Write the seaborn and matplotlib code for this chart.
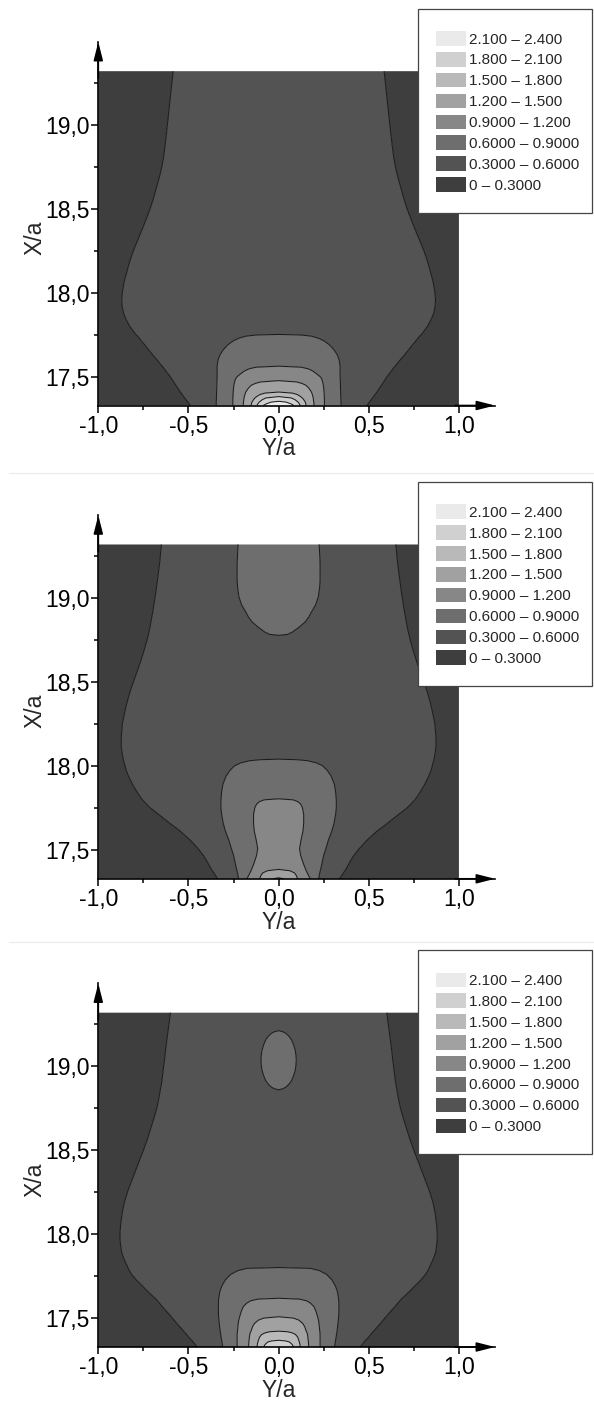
import numpy as np
import matplotlib
matplotlib.use("Agg")
import matplotlib.pyplot as plt
from matplotlib.patches import Patch, Rectangle
from matplotlib.lines import Line2D
from matplotlib.ticker import FuncFormatter
import seaborn as sns

# Contour bands (lowest first) and their grey fills
BANDS = [0.0, 0.3, 0.6, 0.9, 1.2, 1.5, 1.8, 2.1, 2.4]
BAND_COLORS = ['#3e3e3e', '#535353', '#6e6e6e', '#878787',
               '#a1a1a1', '#b9b9b9', '#d0d0d0', '#eaeaea']
BAND_LABELS = ['0 \u2013 0.3000', '0.3000 \u2013 0.6000', '0.6000 \u2013 0.9000',
               '0.9000 \u2013 1.200', '1.200 \u2013 1.500', '1.500 \u2013 1.800',
               '1.800 \u2013 2.100', '2.100 \u2013 2.400']
EDGE_VALUE = 0.15  # value at Y/a = +-1 (darkest band)

# Each panel: rows of X/a, half width (in Y/a) of each contour line 0.3, 0.6, ...
# in that row, and the value on the axis Y/a = 0.  Rows past the end of a
# width list do not reach that contour.

# ---- panel 1
P1_X = [17.33, 17.34, 17.35, 17.355, 17.365, 17.375, 17.383, 17.395, 17.404, 17.41,
        17.42, 17.435, 17.45, 17.462, 17.47, 17.478, 17.49, 17.50, 17.514, 17.535,
        17.548, 17.558, 17.564, 17.60, 17.63, 17.663, 17.69, 17.713, 17.73, 17.743,
        17.75, 17.753, 17.80, 17.84, 17.88, 17.92, 17.96, 18.00, 18.06, 18.125,
        18.19, 18.25, 18.31, 18.375, 18.44, 18.5, 18.56, 18.625, 18.69, 18.75,
        18.81, 18.875, 18.94, 19.0, 19.08, 19.16, 19.24, 19.32]
P1_W03 = [0.49, 0.497, 0.503, 0.507, 0.514, 0.521, 0.527, 0.534, 0.541, 0.545,
          0.551, 0.56, 0.57, 0.577, 0.582, 0.587, 0.594, 0.60, 0.61, 0.625,
          0.634, 0.641, 0.646, 0.673, 0.697, 0.722, 0.742, 0.76, 0.772, 0.782,
          0.79, 0.792, 0.825, 0.845, 0.86, 0.868, 0.87, 0.867, 0.858, 0.842,
          0.825, 0.806, 0.783, 0.758, 0.734, 0.713, 0.695, 0.678, 0.661, 0.648,
          0.638, 0.63, 0.623, 0.617, 0.609, 0.601, 0.593, 0.585]
P1_W06 = [0.346, 0.346, 0.346, 0.346, 0.345, 0.345, 0.345, 0.344, 0.344, 0.344,
          0.344, 0.343, 0.343, 0.343, 0.342, 0.342, 0.342, 0.341, 0.341, 0.341,
          0.341, 0.341, 0.341, 0.336, 0.326, 0.306, 0.283, 0.254, 0.222, 0.18,
          0.12]
P1_W09 = [0.254, 0.254, 0.254, 0.254, 0.254, 0.254, 0.253, 0.253, 0.252, 0.252,
          0.251, 0.25, 0.248, 0.246, 0.244, 0.242, 0.238, 0.232, 0.216, 0.19,
          0.165, 0.125]
P1_W12 = [0.196, 0.196, 0.195, 0.194, 0.193, 0.192, 0.19, 0.187, 0.184, 0.182,
          0.176, 0.166, 0.152, 0.128, 0.1]
P1_W15 = [0.152, 0.151, 0.148, 0.145, 0.139, 0.131, 0.122, 0.104, 0.075]
P1_W18 = [0.12, 0.115, 0.108, 0.102, 0.09, 0.07]
P1_W21 = [0.085, 0.068, 0.042]
P1_C = [2.35, 2.25, 2.15, 2.1, 2.0, 1.9, 1.8, 1.68, 1.57, 1.5,
        1.45, 1.39, 1.32, 1.27, 1.23, 1.2, 1.14, 1.1, 1.04, 0.98,
        0.95, 0.92, 0.9, 0.82, 0.76, 0.72, 0.68, 0.65, 0.63, 0.615,
        0.605, 0.6, 0.55, 0.52, 0.5, 0.48, 0.45, 0.45, 0.45, 0.45,
        0.45, 0.45, 0.45, 0.45, 0.45, 0.45, 0.45, 0.45, 0.45, 0.45,
        0.45, 0.45, 0.45, 0.45, 0.45, 0.45, 0.45, 0.45]

# ---- panel 2
P2_X = [17.33, 17.336, 17.35, 17.365, 17.378, 17.386, 17.41, 17.44, 17.47, 17.51,
        17.56, 17.614, 17.66, 17.713, 17.753, 17.775, 17.79, 17.80, 17.806, 17.85,
        17.892, 17.94, 17.975, 18.002, 18.02, 18.033, 18.039, 18.042, 18.08, 18.12,
        18.18, 18.25, 18.31, 18.375, 18.44, 18.5, 18.56, 18.625, 18.69, 18.75,
        18.779, 18.785, 18.80, 18.829, 18.86, 18.89, 18.918, 18.96, 19.008, 19.06,
        19.108, 19.207, 19.32]
P2_W03 = [0.338, 0.342, 0.35, 0.359, 0.368, 0.373, 0.385, 0.40, 0.418, 0.447,
          0.49, 0.546, 0.603, 0.665, 0.713, 0.733, 0.746, 0.755, 0.76, 0.787,
          0.81, 0.832, 0.845, 0.852, 0.856, 0.86, 0.861, 0.862, 0.868, 0.873,
          0.872, 0.867, 0.856, 0.842, 0.825, 0.806, 0.786, 0.765, 0.746, 0.73,
          0.724, 0.722, 0.719, 0.713, 0.708, 0.703, 0.698, 0.692, 0.685, 0.678,
          0.672, 0.66, 0.65]
P2_W06 = [0.222, 0.223, 0.225, 0.228, 0.231, 0.233, 0.238, 0.244, 0.25, 0.262,
          0.276, 0.295, 0.307, 0.316, 0.32, 0.32, 0.32, 0.32, 0.319, 0.316,
          0.309, 0.292, 0.27, 0.245, 0.21, 0.16, 0.1, 0, 0, 0,
          0, 0, 0, 0, 0, 0, 0, 0, 0, 0,
          0, 0.05, 0.078, 0.115, 0.148, 0.168, 0.182, 0.205, 0.22, 0.227,
          0.23, 0.23, 0.225]
P2_W09 = [0.176, 0.173, 0.166, 0.159, 0.153, 0.15, 0.141, 0.131, 0.122, 0.116,
          0.124, 0.135, 0.139, 0.139, 0.132, 0.122, 0.105, 0.08]
P2_W12 = [0.105, 0.103, 0.098, 0.088, 0.062]
P2_W15 = [0.03]
P2_C = [1.6, 1.5, 1.42, 1.33, 1.26, 1.2, 1.12, 1.08, 1.05, 1.05,
        1.05, 1.05, 1.05, 1.05, 1.02, 0.99, 0.96, 0.93, 0.9, 0.8,
        0.75, 0.7, 0.67, 0.65, 0.63, 0.615, 0.605, 0.6, 0.52, 0.48,
        0.45, 0.45, 0.45, 0.45, 0.45, 0.45, 0.45, 0.45, 0.48, 0.52,
        0.6, 0.62, 0.65, 0.7, 0.7, 0.7, 0.7, 0.7, 0.7, 0.7,
        0.7, 0.7, 0.7]

# ---- panel 3
P3_X = [17.33, 17.345, 17.36, 17.366, 17.37, 17.39, 17.405, 17.415, 17.421, 17.424,
        17.45, 17.47, 17.49, 17.502, 17.51, 17.54, 17.57, 17.59, 17.605, 17.615,
        17.62, 17.66, 17.693, 17.73, 17.763, 17.785, 17.798, 17.803, 17.85, 17.89,
        17.95, 18.0, 18.06, 18.125, 18.19, 18.25, 18.31, 18.375, 18.44, 18.5,
        18.56, 18.625, 18.69, 18.75, 18.81, 18.861, 18.868, 18.877, 18.895, 18.917,
        18.945, 18.977, 19.007, 19.037, 19.067, 19.097, 19.129, 19.157, 19.179, 19.197,
        19.206, 19.213, 19.26, 19.32]
P3_W03 = [0.452, 0.463, 0.475, 0.479, 0.482, 0.50, 0.511, 0.519, 0.524, 0.526,
          0.548, 0.564, 0.58, 0.589, 0.595, 0.62, 0.645, 0.66, 0.672, 0.68,
          0.685, 0.725, 0.755, 0.79, 0.815, 0.828, 0.834, 0.836, 0.856, 0.87,
          0.878, 0.88, 0.876, 0.868, 0.856, 0.839, 0.818, 0.795, 0.772, 0.75,
          0.73, 0.711, 0.692, 0.676, 0.664, 0.656, 0.655, 0.653, 0.65, 0.647,
          0.644, 0.64, 0.637, 0.633, 0.63, 0.627, 0.623, 0.62, 0.617, 0.615,
          0.614, 0.613, 0.607, 0.60]
P3_W06 = [0.31, 0.312, 0.314, 0.315, 0.316, 0.319, 0.321, 0.323, 0.323, 0.324,
          0.327, 0.329, 0.331, 0.332, 0.333, 0.334, 0.334, 0.334, 0.333, 0.333,
          0.332, 0.326, 0.315, 0.295, 0.265, 0.225, 0.176, 0, 0, 0,
          0, 0, 0, 0, 0, 0, 0, 0, 0, 0,
          0, 0, 0, 0, 0, 0, 0.025, 0.04, 0.058, 0.072,
          0.083, 0.092, 0.096, 0.098, 0.096, 0.092, 0.083, 0.072, 0.058, 0.04,
          0.025, 0, 0, 0]
P3_W09 = [0.23, 0.23, 0.23, 0.23, 0.23, 0.23, 0.23, 0.229, 0.229, 0.228,
          0.226, 0.224, 0.221, 0.218, 0.216, 0.208, 0.196, 0.178, 0.155, 0.115]
P3_W12 = [0.167, 0.166, 0.165, 0.165, 0.164, 0.162, 0.16, 0.157, 0.155, 0.153,
          0.145, 0.134, 0.112, 0.082]
P3_W15 = [0.12, 0.118, 0.115, 0.113, 0.112, 0.105, 0.093, 0.073, 0.048]
P3_W18 = [0.083, 0.075, 0.06, 0.038]
P3_C = [1.95, 1.9, 1.85, 1.82, 1.8, 1.66, 1.58, 1.53, 1.51, 1.5,
        1.4, 1.33, 1.27, 1.23, 1.2, 1.1, 1.0, 0.96, 0.93, 0.91,
        0.9, 0.8, 0.75, 0.7, 0.66, 0.63, 0.615, 0.6, 0.52, 0.48,
        0.45, 0.45, 0.45, 0.45, 0.45, 0.45, 0.45, 0.45, 0.45, 0.45,
        0.45, 0.45, 0.47, 0.5, 0.55, 0.6, 0.62, 0.64, 0.67, 0.7,
        0.72, 0.72, 0.72, 0.72, 0.72, 0.72, 0.72, 0.7, 0.67, 0.64,
        0.62, 0.6, 0.55, 0.5]

X_TICKS = [-1.0, -0.5, 0.0, 0.5, 1.0]
X_MINOR = [-0.75, -0.25, 0.25, 0.75]
Y_TICKS = [17.5, 18.0, 18.5, 19.0]
Y_MINOR = [17.75, 18.25, 18.75, 19.25]

W, H = 594.0, 1410.0


def build_field(x_rows, widths, center):
    """Curvilinear mesh: one node per contour crossing in every row, mirrored about Y/a = 0."""
    n = len(x_rows)
    half = np.zeros((n, len(widths)))
    for k, w in enumerate(widths):
        half[:len(w), k] = w
    lev = np.array(BANDS[1:len(widths) + 1])
    cen = np.array(center, dtype=float)[:, None]
    z_half = np.where(half > 0, lev, cen)
    one = np.ones((n, 1))
    edge = np.full((n, 1), EDGE_VALUE)
    yy = np.hstack([-one, -half, 0 * one, half[:, ::-1], one])
    zz = np.hstack([edge, z_half, cen, z_half[:, ::-1], edge])
    xx = np.repeat(np.array(x_rows)[:, None], yy.shape[1], axis=1)
    return yy, xx, zz


def comma(v, _):
    return f"{v:.1f}".replace('.', ',')


def draw_panel(fig, off, x_rows, widths, center):
    left, right = 98.3, 495.0
    top, bottom = 42.0 + off, 405.5 + off
    ax = fig.add_axes([left / W, 1 - bottom / H, (right - left) / W, (bottom - top) / H])
    yy, xx, zz = build_field(x_rows, widths, center)
    ax.contourf(yy, xx, zz, levels=BANDS, colors=BAND_COLORS, antialiased=True)
    ax.contour(yy, xx, zz, levels=BANDS[1:len(widths) + 1], colors='k', linewidths=0.75)
    ax.set_xlim(-1.0, 1.2)
    ax.set_ylim(17.33, 17.33 + (405.5 - 42.0) / 168.0)
    sns.despine(ax=ax)
    for s in ('left', 'bottom'):
        ax.spines[s].set_linewidth(1.2)
        ax.spines[s].set_color('black')
    ax.set_xticks(X_TICKS)
    ax.set_xticks(X_MINOR, minor=True)
    ax.set_yticks(Y_TICKS)
    ax.set_yticks(Y_MINOR, minor=True)
    ax.xaxis.set_major_formatter(FuncFormatter(comma))
    ax.yaxis.set_major_formatter(FuncFormatter(comma))
    ax.tick_params(which='both', direction='out', width=1.1, color='black',
                   labelsize=16.5, labelcolor='black', pad=1.5)
    ax.tick_params(which='major', length=5)
    ax.tick_params(which='minor', length=3)
    ax.set_xlabel('Y/a', fontsize=16.5)
    ax.set_ylabel('X/a', fontsize=16.5)
    ax.xaxis.set_label_coords(0.4545, -0.088)
    ax.yaxis.set_label_coords(-0.13, 0.461)
    arrow = dict(arrowstyle='-|>,head_length=0.55,head_width=0.14', color='black',
                 lw=1.2, mutation_scale=20, shrinkA=0, shrinkB=0)
    ax.annotate('', xy=(1, 0), xytext=(0.9, 0), xycoords='axes fraction',
                arrowprops=arrow, annotation_clip=False)
    ax.annotate('', xy=(0, 1), xytext=(0, 0.9), xycoords='axes fraction',
                arrowprops=arrow, annotation_clip=False)

    # legend: white framed box over the top-right corner, entries inside
    fig.add_artist(Rectangle((418.3 / W, 1 - (212.7 + off) / H), (592.0 - 418.3) / W, 204.0 / H,
                             transform=fig.transFigure, facecolor='white',
                             edgecolor='#444444', lw=0.9, zorder=4))
    handles = [Patch(facecolor=c, edgecolor='none', label=l)
               for c, l in zip(BAND_COLORS, BAND_LABELS)][::-1]
    fig.legend(handles=handles, loc='upper left',
               bbox_to_anchor=(435.7 / W, 1 - (31.0 + off) / H),
               bbox_transform=fig.transFigure, borderaxespad=0, borderpad=0,
               frameon=False, fontsize=11, handlelength=1.96, handleheight=1.1,
               labelspacing=0.35, handletextpad=0.2)
    return ax


sns.set_theme(style="ticks")
plt.rcParams['font.family'] = ['Liberation Sans', 'DejaVu Sans']
plt.rcParams['axes.unicode_minus'] = False

fig = plt.figure(figsize=(5.94, 14.1), dpi=100)
fig.patch.set_facecolor('white')

draw_panel(fig, 0.0, P1_X, [P1_W03, P1_W06, P1_W09, P1_W12, P1_W15, P1_W18, P1_W21], P1_C)
draw_panel(fig, 473.3, P2_X, [P2_W03, P2_W06, P2_W09, P2_W12, P2_W15], P2_C)
draw_panel(fig, 941.5, P3_X, [P3_W03, P3_W06, P3_W09, P3_W12, P3_W15, P3_W18], P3_C)

# faint separators between the three panels
for y_px in (473.3, 941.7):
    fig.add_artist(Line2D([0.015, 1.0], [1 - y_px / H] * 2, transform=fig.transFigure,
                          color='#ebebeb', lw=0.8))

fig.savefig('out.png', dpi=100, facecolor='white')
